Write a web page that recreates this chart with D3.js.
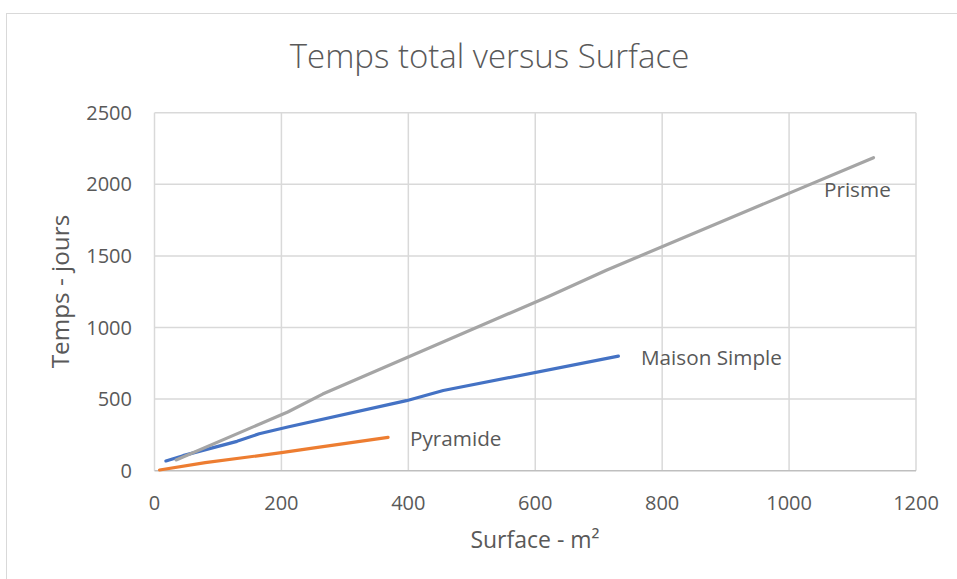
<!DOCTYPE html>
<html>
<head>
<meta charset="utf-8">
<script src="https://cdn.jsdelivr.net/npm/d3@7"></script>
<style>
html,body{margin:0;padding:0;background:#fff;}
svg{display:block;}
text{font-family:"Open Sans","Noto Sans",sans-serif;fill:#595959;}
</style>
</head>
<body>
<svg id="chart" width="957" height="579"></svg>
<script>
const title = "Temps total versus Surface";
const xTitle = "Surface - m²";
const yTitle = "Temps - jours";
const xTicks = [0, 200, 400, 600, 800, 1000, 1200];
const yTicks = [0, 500, 1000, 1500, 2000, 2500];
const seriesNames = ["Maison Simple", "Pyramide", "Prisme"];
const seriesColors = ["#4472c4", "#ed7d31", "#a5a5a5"];
const maisonX = [18, 45, 130, 165, 210, 397, 455, 731];
const maisonY = [68, 105, 205, 258, 305, 489, 560, 800];
const pyramideX = [8, 80, 200, 260, 368];
const pyramideY = [5, 56, 126, 165, 233];
const prismeX = [34, 210, 265, 620, 712, 1133];
const prismeY = [75, 410, 535, 1215, 1400, 2186];

const svg = d3.select("#chart");
// chart border
svg.append("rect").attr("x", 6.5).attr("y", 13.5).attr("width", 960).attr("height", 600)
  .attr("fill", "none").attr("stroke", "#d9d9d9").attr("stroke-width", 1);

const x = d3.scaleLinear().domain([0, 1200]).range([154.5, 916]);
const y = d3.scaleLinear().domain([0, 2500]).range([470.7, 112.7]);

// gridlines
const g = svg.append("g");
g.selectAll(".vg").data(xTicks).join("line")
  .attr("x1", d => x(d)).attr("x2", d => x(d)).attr("y1", y(2500)).attr("y2", y(0))
  .attr("stroke", "#d9d9d9").attr("stroke-width", 1.5);
g.selectAll(".hg").data(yTicks).join("line")
  .attr("x1", x(0)).attr("x2", x(1200)).attr("y1", d => y(d)).attr("y2", d => y(d))
  .attr("stroke", d => d === 0 ? "#bfbfbf" : "#d9d9d9").attr("stroke-width", 1.5);

// tick labels
svg.selectAll(".xt").data(xTicks).join("text")
  .attr("x", d => x(d)).attr("y", 510).attr("text-anchor", "middle")
  .attr("font-size", 20).text(d => d);
svg.selectAll(".yt").data(yTicks).join("text")
  .attr("x", 132).attr("y", d => y(d) + 7).attr("text-anchor", "end")
  .attr("font-size", 20).text(d => d);

// lines
const line = d3.line().x(d => x(d[0])).y(d => y(d[1]));
const series = [
  {name: seriesNames[0], color: seriesColors[0], xs: maisonX, ys: maisonY},
  {name: seriesNames[1], color: seriesColors[1], xs: pyramideX, ys: pyramideY},
  {name: seriesNames[2], color: seriesColors[2], xs: prismeX, ys: prismeY}
];
series.forEach(s => {
  s.pts = s.xs.map((v, i) => [v, s.ys[i]]);
});
svg.selectAll(".ln").data(series).join("path")
  .attr("d", s => line(s.pts)).attr("fill", "none")
  .attr("stroke", s => s.color).attr("stroke-width", 3.2)
  .attr("stroke-linecap", "round").attr("stroke-linejoin", "round");

// data labels
const labelPos = {"Maison Simple": [641, 365], "Pyramide": [410, 446], "Prisme": [824, 197]};
svg.selectAll(".lbl").data(series).join("text")
  .attr("x", s => labelPos[s.name][0]).attr("y", s => labelPos[s.name][1])
  .attr("font-size", 20.7).attr("fill", "#404040").text(s => s.name);

// titles
svg.append("text").attr("x", 489.5).attr("y", 68).attr("text-anchor", "middle")
  .attr("font-size", 33).attr("font-weight", 300).text(title);
svg.append("text").attr("x", 535).attr("y", 548).attr("text-anchor", "middle")
  .attr("font-size", 23).text(xTitle);
svg.append("text").attr("transform", "translate(69,291.5) rotate(-90)").attr("text-anchor", "middle")
  .attr("font-size", 24.3).text(yTitle);
</script>
</body>
</html>
